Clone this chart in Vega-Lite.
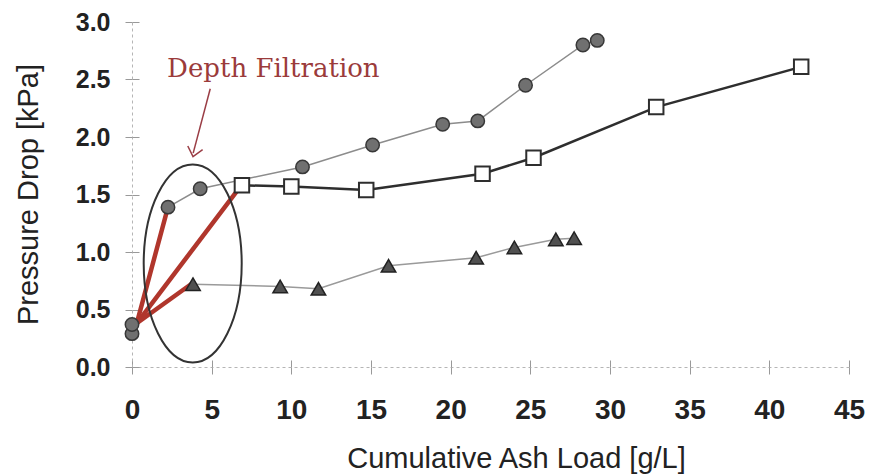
{
  "$schema": "https://vega.github.io/schema/vega-lite/v6.json",
  "width": 717,
  "height": 345,
  "autosize": {"type": "none"},
  "padding": {"left": 132, "top": 22, "right": 21, "bottom": 108},
  "background": "white",
  "config": {"view": {"stroke": null}, "axis": {"grid": false}},
  "datasets": {
    "circles": [
      {"x": 2.26, "y": 1.39}, {"x": 4.28, "y": 1.55}, {"x": 10.7, "y": 1.74},
      {"x": 15.1, "y": 1.93}, {"x": 19.5, "y": 2.11}, {"x": 21.7, "y": 2.14},
      {"x": 24.7, "y": 2.45}, {"x": 28.3, "y": 2.8}, {"x": 29.2, "y": 2.84}
    ],
    "origin": [{"x": 0, "y": 0.29}, {"x": 0, "y": 0.37}],
    "squares": [
      {"x": 6.9, "y": 1.58}, {"x": 10.0, "y": 1.57}, {"x": 14.7, "y": 1.54},
      {"x": 22.0, "y": 1.68}, {"x": 25.2, "y": 1.82}, {"x": 32.9, "y": 2.26},
      {"x": 42.0, "y": 2.61}
    ],
    "triangles": [
      {"x": 3.83, "y": 0.72}, {"x": 9.3, "y": 0.7}, {"x": 11.7, "y": 0.68},
      {"x": 16.1, "y": 0.88}, {"x": 21.6, "y": 0.95}, {"x": 24.0, "y": 1.04},
      {"x": 26.6, "y": 1.11}, {"x": 27.75, "y": 1.12}
    ],
    "red": [
      {"x": 0.3, "y": 0.38, "x2": 2.2, "y2": 1.36},
      {"x": 0.3, "y": 0.38, "x2": 6.75, "y2": 1.56},
      {"x": 0.3, "y": 0.38, "x2": 3.7, "y2": 0.72}
    ],
    "ellipse": [{"x": 3.81, "y": 0.9}],
    "arrow": [{"x": 4.91, "y": 2.42, "x2": 3.84, "y2": 1.86}],
    "arrowhead": [{"x": 3.83, "y": 1.83}],
    "label": [{"x": 2.2, "y": 2.52, "text": "Depth Filtration"}]
  },
  "resolve": {"axis": {"x": "independent", "y": "independent"}},
  "encoding": {
    "x": {"field": "x", "type": "quantitative", "scale": {"domain": [0, 45], "nice": false, "zero": false}, "axis": null},
    "y": {"field": "y", "type": "quantitative", "scale": {"domain": [0, 3], "nice": false, "zero": false}, "axis": null}
  },
  "layer": [
    {
      "data": {"name": "circles"},
      "mark": {"type": "line", "color": "#8c8c8c", "strokeWidth": 1.5},
      "encoding": {
        "x": {
          "field": "x", "type": "quantitative",
          "scale": {"domain": [0, 45], "nice": false, "zero": false},
          "axis": {
            "orient": "bottom",
            "values": [0, 5, 10, 15, 20, 25, 30, 35, 40, 45],
            "labelFont": "Liberation Sans", "labelFontSize": 28, "labelFontWeight": "bold", "labelColor": "#222222",
            "labelPadding": 22, "labelFlush": false, "labelOverlap": false,
            "tickSize": 7, "tickColor": "#999999", "tickWidth": 1,
            "domainColor": "#b5b5b5", "domainDash": [3, 3], "domainWidth": 1,
            "title": "Cumulative Ash Load [g/L]",
            "titleFont": "Liberation Sans", "titleFontSize": 29, "titleFontWeight": "normal", "titleColor": "#222222",
            "titleX": 384, "titleY": 91, "titleBaseline": "middle", "titleAlign": "center"
          }
        },
        "y": {
          "field": "y", "type": "quantitative",
          "scale": {"domain": [0, 3], "nice": false, "zero": false},
          "axis": {
            "orient": "left",
            "values": [0, 0.5, 1, 1.5, 2, 2.5, 3],
            "format": ".1f",
            "labelFont": "Liberation Sans", "labelFontSize": 25, "labelFontWeight": "bold", "labelColor": "#222222",
            "labelPadding": 15, "labelFlush": false, "labelOverlap": false,
            "tickSize": 7, "tickColor": "#999999", "tickWidth": 1,
            "domainColor": "#b5b5b5", "domainDash": [3, 3], "domainWidth": 1,
            "title": "Pressure Drop [kPa]",
            "titleFont": "Liberation Sans", "titleFontSize": 29, "titleFontWeight": "normal", "titleColor": "#222222",
            "titleX": -104, "titleY": 172, "titleBaseline": "middle", "titleAlign": "center", "titleAngle": -90
          }
        }
      }
    },
    {
      "data": {"name": "triangles"},
      "mark": {"type": "line", "color": "#9a9a9a", "strokeWidth": 1.5},
      "encoding": {
        "x": {
          "field": "x", "type": "quantitative",
          "scale": {"domain": [0, 45], "nice": false, "zero": false},
          "axis": {
            "orient": "bottom", "values": [0, 5, 10, 15, 20, 25, 30, 35, 40, 45],
            "labels": false, "domain": false, "title": null,
            "tickSize": -7, "tickColor": "#999999", "tickWidth": 1
          }
        },
        "y": {
          "field": "y", "type": "quantitative",
          "scale": {"domain": [0, 3], "nice": false, "zero": false},
          "axis": {
            "orient": "left", "values": [0, 0.5, 1, 1.5, 2, 2.5, 3],
            "labels": false, "domain": false, "title": null,
            "tickSize": -7, "tickColor": "#999999", "tickWidth": 1
          }
        }
      }
    },
    {
      "data": {"name": "squares"},
      "mark": {"type": "line", "color": "#2e2e2e", "strokeWidth": 2.5}
    },
    {
      "data": {"name": "red"},
      "mark": {"type": "rule", "color": "#b0362c", "strokeWidth": 4.5, "strokeCap": "round"},
      "encoding": {
        "x2": {"field": "x2"},
        "y2": {"field": "y2"}
      }
    },
    {
      "data": {"name": "circles"},
      "mark": {"type": "point", "shape": "circle", "filled": true, "fill": "#707070", "stroke": "#383838", "strokeWidth": 1.5, "size": 180, "opacity": 1}
    },
    {
      "data": {"name": "origin"},
      "mark": {"type": "point", "shape": "circle", "filled": true, "fill": "#707070", "stroke": "#383838", "strokeWidth": 1.5, "size": 180, "opacity": 1}
    },
    {
      "data": {"name": "squares"},
      "mark": {"type": "point", "shape": "square", "filled": true, "fill": "#ffffff", "stroke": "#2e2e2e", "strokeWidth": 2, "size": 210, "opacity": 1}
    },
    {
      "data": {"name": "triangles"},
      "mark": {"type": "point", "shape": "triangle-up", "filled": true, "fill": "#505050", "stroke": "#222222", "strokeWidth": 1.5, "size": 210, "opacity": 1}
    },
    {
      "data": {"name": "ellipse"},
      "mark": {
        "type": "point",
        "shape": "M 0.49 0 C 0.49 0.5468 0.2706 0.99 0 0.99 C -0.2706 0.99 -0.49 0.5468 -0.49 0 C -0.49 -0.5468 -0.2706 -0.99 0 -0.99 C 0.2706 -0.99 0.49 -0.5468 0.49 0 Z",
        "size": 40000, "filled": false, "stroke": "#333333", "strokeWidth": 2, "opacity": 1
      }
    },
    {
      "data": {"name": "arrow"},
      "mark": {"type": "rule", "color": "#9a3d45", "strokeWidth": 1.5},
      "encoding": {
        "x2": {"field": "x2"},
        "y2": {"field": "y2"}
      }
    },
    {
      "data": {"name": "arrowhead"},
      "mark": {
        "type": "point",
        "shape": "M -0.85 -1 L 0 0 L 0.85 -1",
        "size": 324, "angle": 14, "filled": false, "stroke": "#9a3d45", "strokeWidth": 1.5, "opacity": 1
      }
    },
    {
      "data": {"name": "label"},
      "mark": {"type": "text", "font": "DejaVu Serif", "fontSize": 26, "color": "#9b3b3b", "align": "left", "baseline": "alphabetic"},
      "encoding": {
        "text": {"field": "text", "type": "nominal"}
      }
    }
  ]
}
